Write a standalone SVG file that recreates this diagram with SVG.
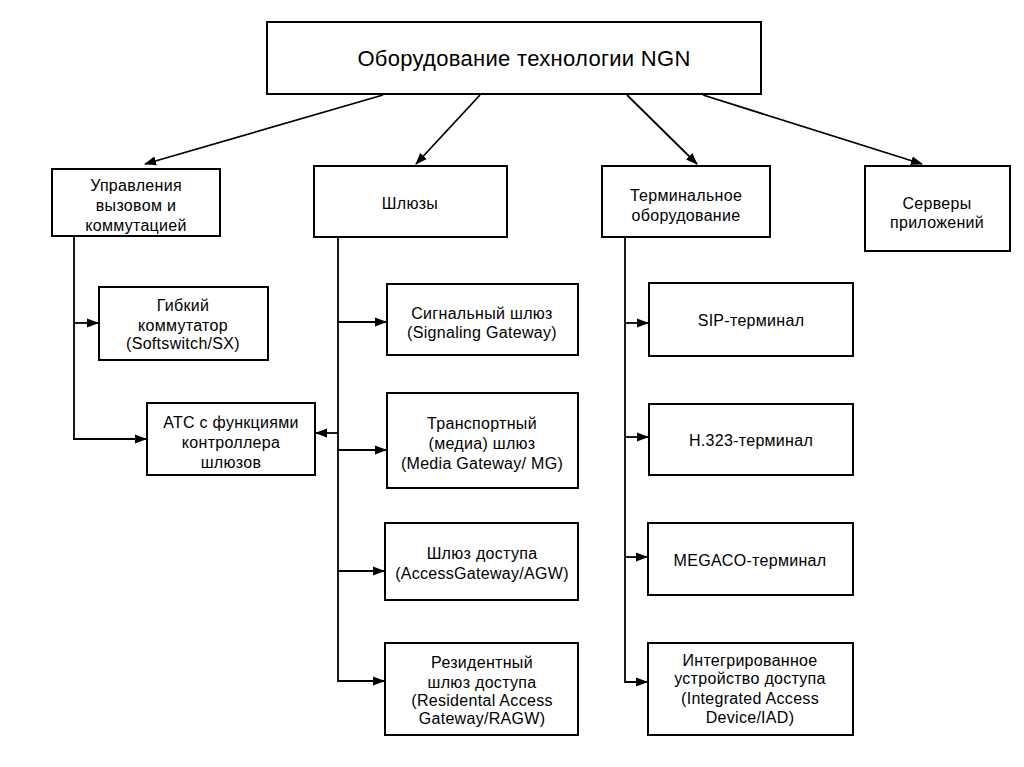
<svg xmlns="http://www.w3.org/2000/svg" width="1024" height="767" viewBox="0 0 1024 767">
<style>
.box{fill:#fff;stroke:#000;stroke-width:2}
.t{font-family:"Liberation Sans",Arial,sans-serif;font-size:16px;letter-spacing:0.3px;fill:#000;text-anchor:middle}
.title{font-family:"Liberation Sans",Arial,sans-serif;font-size:22px;letter-spacing:0.3px;fill:#000;text-anchor:middle}
.c{fill:none;stroke:#000;stroke-width:1.8}
</style>
<defs>
<marker id="a" markerWidth="12" markerHeight="10" refX="11" refY="5" orient="auto" markerUnits="userSpaceOnUse">
<path d="M0,0.5 L12,5 L0,9.5 Z" fill="#000"/>
</marker>
</defs>
<rect width="1024" height="767" fill="#fff"/>
<g id="connectors">
<line class="c" x1="383" y1="95" x2="145" y2="164" marker-end="url(#a)"/>
<line class="c" x1="480" y1="95" x2="416" y2="164" marker-end="url(#a)"/>
<line class="c" x1="627" y1="95" x2="697" y2="164" marker-end="url(#a)"/>
<line class="c" x1="703" y1="95" x2="922" y2="164" marker-end="url(#a)"/>
<polyline class="c" points="74,236 74,439 146,439" marker-end="url(#a)"/>
<line class="c" x1="74" y1="323" x2="98" y2="323" marker-end="url(#a)"/>
<polyline class="c" points="338,237 338,681 384,681" marker-end="url(#a)"/>
<line class="c" x1="338" y1="322" x2="386" y2="322" marker-end="url(#a)"/>
<line class="c" x1="338" y1="450" x2="386" y2="450" marker-end="url(#a)"/>
<line class="c" x1="338" y1="571" x2="384" y2="571" marker-end="url(#a)"/>
<line class="c" x1="338" y1="433" x2="316" y2="433" marker-end="url(#a)"/>
<polyline class="c" points="625,237 625,682 647,682" marker-end="url(#a)"/>
<line class="c" x1="625" y1="323" x2="648" y2="323" marker-end="url(#a)"/>
<line class="c" x1="625" y1="437" x2="648" y2="437" marker-end="url(#a)"/>
<line class="c" x1="625" y1="557" x2="647" y2="557" marker-end="url(#a)"/>
</g>
<g id="root"><rect class="box" x="267" y="22" width="494" height="72"/><text class="title" x="524" y="66">Оборудование технологии NGN</text></g>
<g id="call-control"><rect class="box" x="52" y="169" width="168" height="67"/><text class="t" x="136" y="191">Управления</text><text class="t" x="136" y="211">вызовом и</text><text class="t" x="136" y="231">коммутацией</text></g>
<g id="gateways"><rect class="box" x="314" y="166" width="193" height="71"/><text class="t" x="410" y="209">Шлюзы</text></g>
<g id="terminal"><rect class="box" x="602" y="166" width="168" height="71"/><text class="t" x="686" y="201">Терминальное</text><text class="t" x="686" y="221">оборудование</text></g>
<g id="servers"><rect class="box" x="865" y="166" width="145" height="85"/><text class="t" x="937" y="209">Серверы</text><text class="t" x="937" y="228">приложений</text></g>
<g id="softswitch"><rect class="box" x="99" y="287" width="169" height="73"/><text class="t" x="183" y="311">Гибкий</text><text class="t" x="183" y="331">коммутатор</text><text class="t" x="183" y="349">(Softswitch/SX)</text></g>
<g id="atc"><rect class="box" x="147" y="403" width="168" height="72"/><text class="t" x="231" y="428">АТС с функциями</text><text class="t" x="231" y="448">контроллера</text><text class="t" x="231" y="468">шлюзов</text></g>
<g id="signaling"><rect class="box" x="387" y="284" width="191" height="71"/><text class="t" x="482" y="319">Сигнальный шлюз</text><text class="t" x="482" y="338">(Signaling Gateway)</text></g>
<g id="media"><rect class="box" x="387" y="393" width="191" height="95"/><text class="t" x="482" y="429">Транспортный</text><text class="t" x="482" y="449">(медиа) шлюз</text><text class="t" x="482" y="469">(Media Gateway/ MG)</text></g>
<g id="access"><rect class="box" x="385" y="523" width="193" height="77"/><text class="t" x="482" y="559">Шлюз доступа</text><text class="t" x="482" y="579">(AccessGateway/AGW)</text></g>
<g id="residental"><rect class="box" x="385" y="643" width="193" height="92"/><text class="t" x="482" y="668">Резидентный</text><text class="t" x="482" y="688">шлюз доступа</text><text class="t" x="482" y="706">(Residental Access</text><text class="t" x="482" y="724">Gateway/RAGW)</text></g>
<g id="sip"><rect class="box" x="649" y="283" width="204" height="73"/><text class="t" x="751" y="326">SIP-терминал</text></g>
<g id="h323"><rect class="box" x="649" y="404" width="204" height="71"/><text class="t" x="751" y="446">Н.323-терминал</text></g>
<g id="megaco"><rect class="box" x="648" y="523" width="205" height="72"/><text class="t" x="750" y="566">MEGACO-терминал</text></g>
<g id="iad"><rect class="box" x="648" y="643" width="205" height="92"/><text class="t" x="750" y="666">Интегрированное</text><text class="t" x="750" y="684">устройство доступа</text><text class="t" x="750" y="704">(Integrated Access</text><text class="t" x="750" y="723">Device/IAD)</text></g>
</svg>
